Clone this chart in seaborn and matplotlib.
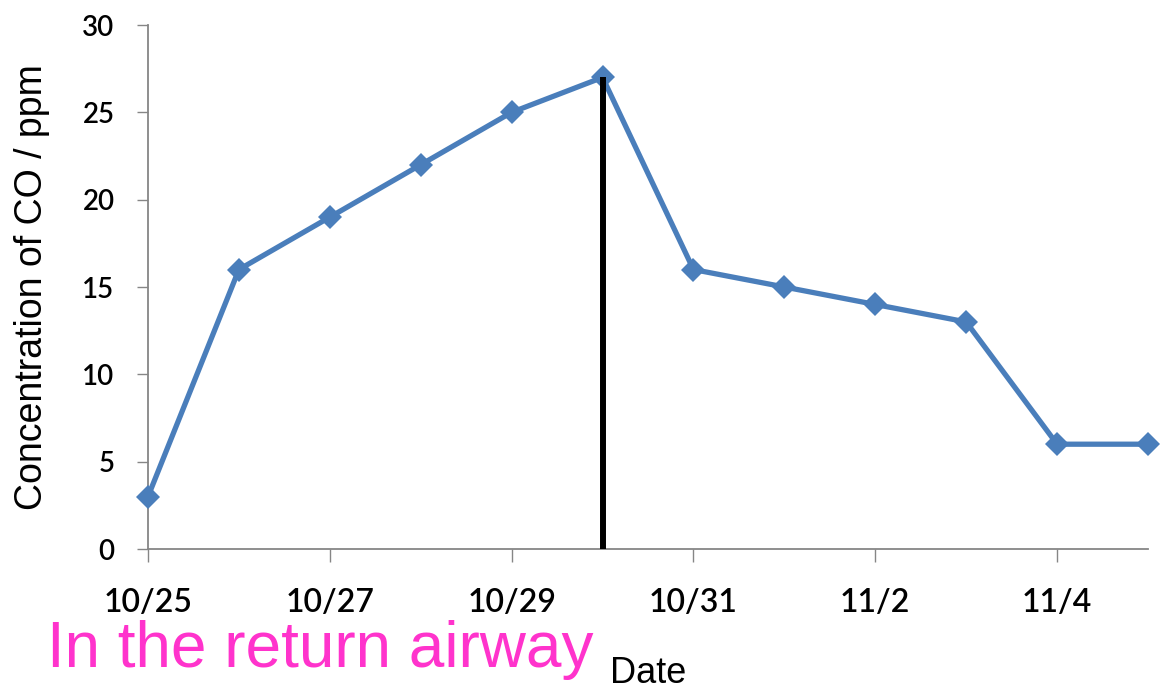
import matplotlib
matplotlib.use("Agg")
import matplotlib.pyplot as plt
import pandas as pd
import seaborn as sns

# CO concentration readings in the return airway
dates = ["10/25", "10/26", "10/27", "10/28", "10/29", "10/30",
         "10/31", "11/1", "11/2", "11/3", "11/4", "11/5"]
co_ppm = [3, 16, 19, 22, 25, 27, 16, 15, 14, 13, 6, 6]
tick_dates = ["10/25", "10/27", "10/29", "10/31", "11/2", "11/4"]
yticks = [0, 5, 10, 15, 20, 25, 30]
marker_date = "10/30"

df = pd.DataFrame({"date": pd.to_datetime(dates, format="%m/%d"), "co": co_ppm})
marker_x = pd.to_datetime(marker_date, format="%m/%d")
marker_y = df.loc[df["date"] == marker_x, "co"].iloc[0]

sns.set_theme(style="white")
plt.rcParams["font.family"] = ["Liberation Sans", "DejaVu Sans"]

fig = plt.figure(figsize=(11.63, 6.86), dpi=100)
ax = fig.add_axes([148 / 1163, 137 / 686, 1000 / 1163, 524 / 686])

blue = "#4A7EBB"
sns.lineplot(data=df, x="date", y="co", ax=ax, color=blue, linewidth=3.8,
             marker="D", markersize=12.5, markeredgewidth=0, zorder=3)
for ln in ax.get_lines():
    ln.set_clip_on(False)

# vertical marker line at the peak
ax.vlines(marker_x, 0, marker_y, color="black", linewidth=4.3, zorder=4)

ax.set_xlim(df["date"].iloc[0], df["date"].iloc[-1])
ax.set_ylim(0, 30)
ax.set_yticks(yticks)
tick_pos = pd.to_datetime(tick_dates, format="%m/%d")
ax.set_xticks(tick_pos)
ax.set_xticklabels(tick_dates, fontfamily="Lato", fontsize=23,
                   fontweight="semibold", color="black")
ax.set_yticklabels([str(v) for v in yticks], fontfamily="Lato", fontsize=20,
                   fontweight="semibold", color="black")

sns.despine(ax=ax)
for side in ("left", "bottom"):
    ax.spines[side].set_color("#868686")
    ax.spines[side].set_linewidth(1.3)
ax.tick_params(axis="y", direction="out", length=8, width=1, color="#868686",
               pad=16, left=True)
ax.tick_params(axis="x", direction="out", length=9, width=1, color="#868686",
               pad=19, bottom=True)
ax.grid(False)

ax.set_ylabel("Concentration of CO / ppm", fontsize=27, color="black",
              va="center", ha="center")
ax.yaxis.set_label_coords(-0.116, 0.5)
ax.set_xlabel("Date", fontsize=26, color="black", va="baseline")
ax.xaxis.set_label_coords(0.5, -0.255)

fig.text(47 / 1163, 19 / 686, "In the return airway", fontsize=46,
         color="#FF33CC", ha="left", va="baseline")

fig.savefig("out.png", dpi=100, facecolor="white")
